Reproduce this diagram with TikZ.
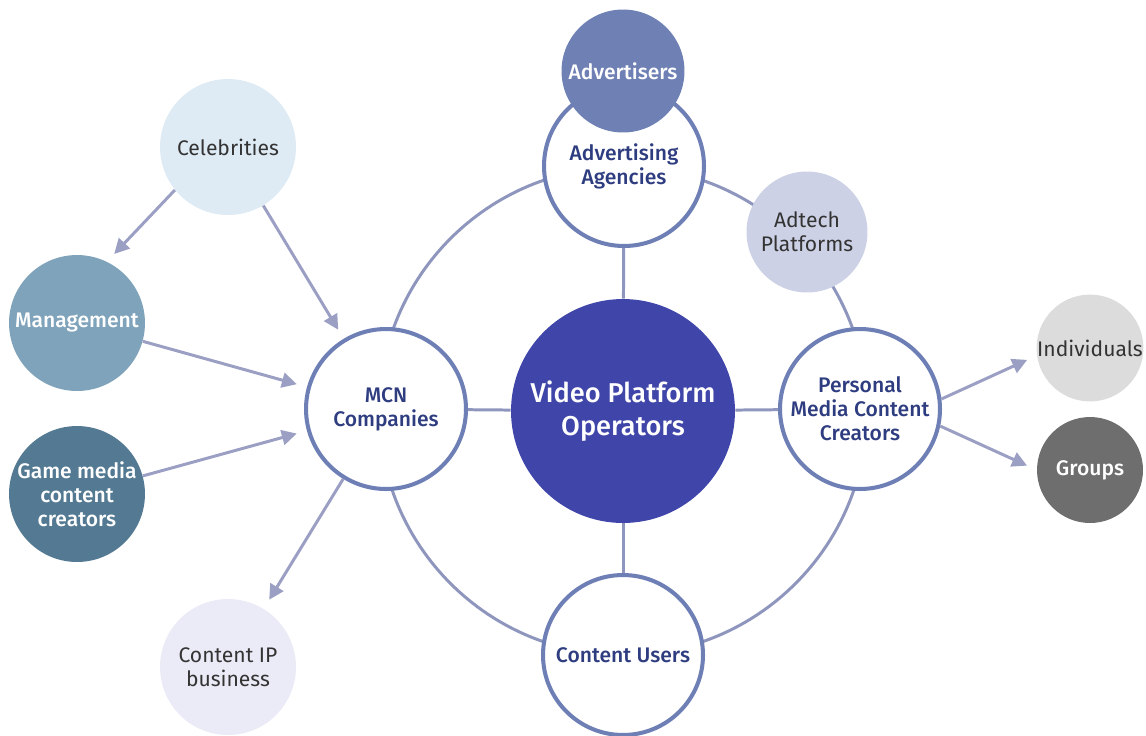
\documentclass[tikz,border=0pt]{standalone}
\usepackage{fontspec}
\setmainfont{Fira Sans}[BoldFont={Fira Sans Medium}]
\usepackage{tikz}
\usetikzlibrary{arrows.meta,shapes}
\definecolor{ringblue}{HTML}{6E7FB5}
\definecolor{linkgray}{HTML}{8F96BE}
\definecolor{arrowgray}{HTML}{9B9FC3}
\definecolor{corefill}{HTML}{4046A9}
\definecolor{labelblue}{HTML}{2E3C80}
\definecolor{advfill}{HTML}{6E80B4}
\definecolor{adtechfill}{HTML}{CDD1E5}
\definecolor{indfill}{HTML}{DCDCDC}
\definecolor{grpfill}{HTML}{6E6E6E}
\definecolor{celebfill}{HTML}{DEEAF4}
\definecolor{mgmtfill}{HTML}{7FA3BA}
\definecolor{gamefill}{HTML}{547A93}
\definecolor{ipfill}{HTML}{EBEBF7}
\definecolor{darktext}{HTML}{333333}

\begin{document}
\begin{tikzpicture}[x=0.02cm, y=-0.02cm,
    every node/.style={align=center, font=\fontsize{12}{13.6}\selectfont},
    core/.style={circle, fill=corefill, text=white, minimum size=4.48cm, inner sep=0pt,
        font=\bfseries\fontsize{15.5}{18.7}\selectfont},
    hub/.style={circle, draw=ringblue, line width=2.3pt, fill=white, text=labelblue,
        minimum size=3.2cm, inner sep=0pt, font=\bfseries\fontsize{12}{13.6}\selectfont},
    side/.style={circle, minimum size=2.72cm, inner sep=0pt, text=darktext},
    sidedark/.style={side, text=white, font=\bfseries\fontsize{12}{13.6}\selectfont},
    link/.style={draw=linkgray, line width=1.7pt},
    arrow/.style={-{Triangle[length=8.5pt, width=8.5pt]}, draw=arrowgray, fill=arrowgray,
        line width=1.7pt, shorten >=6pt}]

    \useasboundingbox (0,0) rectangle (1146,735);
    \clip (0,0) rectangle (1146,735);

    % ring behind everything
    \coordinate (ringc) at (623,411);
    \draw [link] (ringc) circle [radius=4.88cm];

    \node [core] (vpo) at (623,411) {Video Platform\\Operators};

    \node [hub] (agency) at (624,166) {Advertising\\Agencies};
    \node [hub] (mcn) at (386,409) {MCN\\Companies};
    \node [hub] (creator) at (860,409) {Personal\\Media Content\\Creators};
    \node [hub] (users) at (623,655) {Content Users};

    \node [circle, fill=advfill, text=white, minimum size=2.46cm, inner sep=0pt,
        font=\bfseries\fontsize{12}{13.6}\selectfont] (adv) at (623,71) {Advertisers};
    \node [side, fill=adtechfill, minimum size=2.42cm] (adtech) at (807,232) {Adtech\\Platforms};

    \node [side, fill=celebfill] (celeb) at (228,147) {Celebrities};
    \node [sidedark, fill=mgmtfill] (mgmt) at (77,323) {Management};
    \node [sidedark, fill=gamefill] (game) at (77,494) {Game media\\content\\creators};
    \node [side, fill=ipfill] (ip) at (228,667) {Content IP\\business};

    \node [side, fill=indfill, minimum size=2.12cm] (indiv) at (1090,348) {Individuals};
    \node [sidedark, fill=grpfill, minimum size=2.12cm] (groups) at (1090,470) {Groups};

    % spokes
    \draw [link] (vpo) -- (agency);
    \draw [link] (vpo) -- (mcn);
    \draw [link] (vpo) -- (creator);
    \draw [link] (vpo) -- (users);

    % arrows
    \draw [arrow] (celeb.219) -- (mgmt.64);
    \draw [arrow] (celeb) -- (mcn);
    \draw [arrow] (mgmt) -- (mcn);
    \draw [arrow] (game) -- (mcn);
    \draw [arrow] (mcn) -- (ip);
    \draw [arrow] (creator.7) -- (indiv.188);
    \draw [arrow] (creator.-12) -- (groups.180);
\end{tikzpicture}
\end{document}
